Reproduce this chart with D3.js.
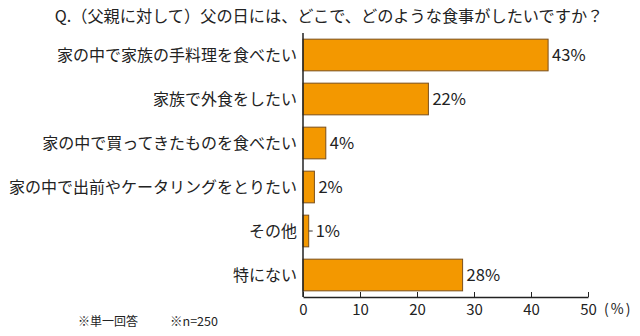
<!DOCTYPE html>
<html><head><meta charset="utf-8">
<script src="https://cdn.jsdelivr.net/npm/d3@7/dist/d3.min.js"></script>
<style>body{margin:0;background:#fff}svg{display:block}text{font-family:"Noto Sans CJK JP",sans-serif;fill:#222}</style>
</head><body><svg id="c" width="640" height="336"></svg>
<script>
const title = "Q.（父親に対して）父の日には、どこで、どのような食事がしたいですか？";
const categories = ["家の中で家族の手料理を食べたい","家族で外食をしたい","家の中で買ってきたものを食べたい","家の中で出前やケータリングをとりたい","その他","特にない"];
const values = [43,22,4,2,1,28];
const ticks = [0,10,20,30,40,50];
const notes = ["※単一回答","※n=250"];

const svg = d3.select("#c");
const x = d3.scaleLinear().domain([0,50]).range([303,588]);
const y = d3.scaleBand().domain(categories).range([33,297]).paddingInner(0.28).paddingOuter(0.14);

svg.append("text").attr("x",329).attr("y",22).attr("text-anchor","middle").attr("font-size",16.2).text(title);

svg.selectAll("rect.bar").data(values).join("rect").attr("class","bar")
  .attr("x",x(0)).attr("y",(d,i)=>y(categories[i])).attr("width",d=>x(d)-x(0)).attr("height",y.bandwidth())
  .attr("fill","#F39800").attr("stroke","#7a4f1c").attr("stroke-width",1);

svg.selectAll("text.val").data(values).join("text").attr("class","val")
  .attr("x",d=>x(d)+(d===1?7:4)).attr("y",(d,i)=>y(categories[i])+y.bandwidth()/2+6)
  .attr("font-size",16.5).text(d=>d+"%");
svg.selectAll("line.lead").data(values.filter(d=>d===1)).join("line").attr("class","lead")
  .attr("x1",d=>x(d)).attr("x2",d=>x(d)+4)
  .attr("y1",y(categories[4])+y.bandwidth()/2).attr("y2",y(categories[4])+y.bandwidth()/2)
  .attr("stroke","#333");

svg.selectAll("text.cat").data(categories).join("text").attr("class","cat")
  .attr("x",297).attr("y",d=>y(d)+y.bandwidth()/2+5.5).attr("text-anchor","end").attr("font-size",16).text(d=>d);

const ax = svg.append("g").attr("transform","translate(0,297)")
  .call(d3.axisBottom(x).tickValues(ticks).tickSizeInner(-5).tickSizeOuter(0).tickPadding(5));
ax.select(".domain").attr("stroke","#222").attr("stroke-width",1.5);
ax.selectAll(".tick line").attr("stroke","#222");
ax.selectAll(".tick text").attr("font-size",15).attr("fill","#222").attr("font-family","'Noto Sans CJK JP',sans-serif").attr("dy","0.85em");
svg.append("line").attr("x1",x(0)).attr("x2",x(0)).attr("y1",33).attr("y2",297).attr("stroke","#222").attr("stroke-width",1.5);
svg.append("text").attr("x",604).attr("y",314).attr("font-size",14).attr("letter-spacing",2).text("(%)");

svg.append("text").attr("x",78).attr("y",326).attr("font-size",12).text(notes[0]);
svg.append("text").attr("x",170).attr("y",326).attr("font-size",12.5).text(notes[1]);
</script></body></html>
